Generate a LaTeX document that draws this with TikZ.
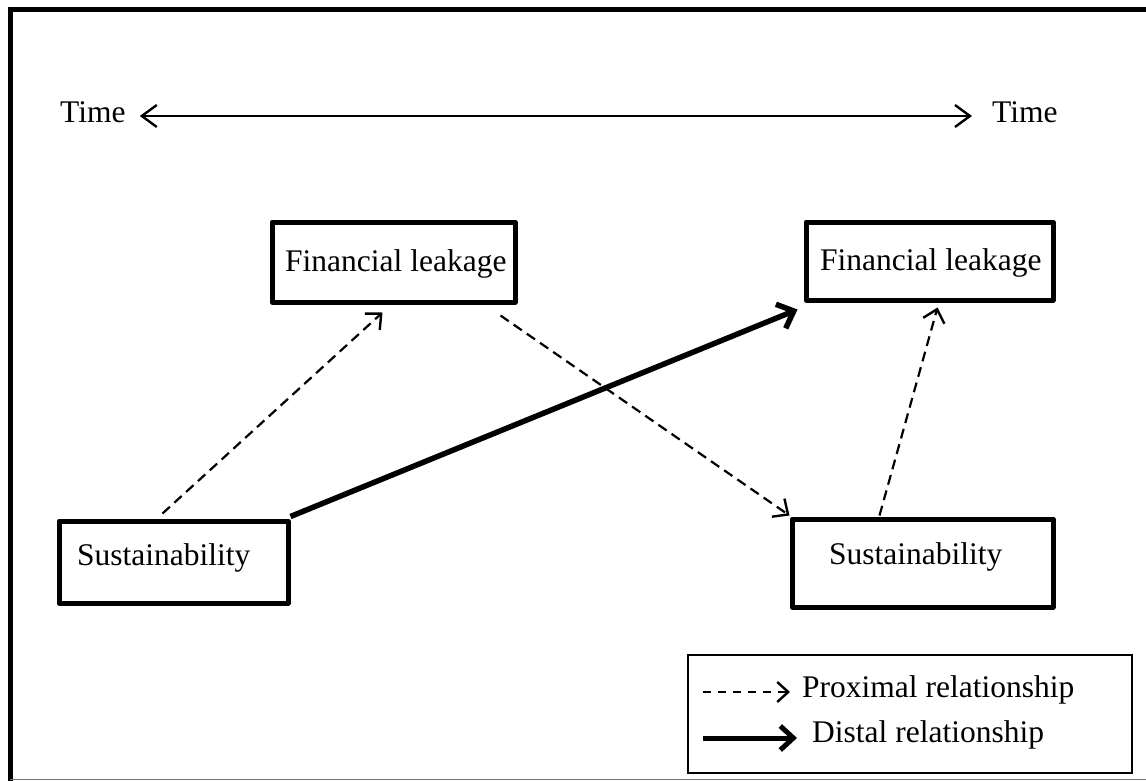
\documentclass[tikz,border=0pt]{standalone}
\usepackage{fontspec}
\setmainfont{Liberation Serif}
\usetikzlibrary{arrows.meta}
\begin{document}
\begin{tikzpicture}[x=1pt,y=-1pt,
  box/.style={draw=black,line width=5pt,rectangle,inner sep=0pt,line join=round},
  lbl/.style={inner sep=0pt,anchor=base west,font=\fontsize{31.5}{36}\selectfont},
  proximal/.style={draw=black,line width=2.2pt,dash pattern=on 10pt off 6pt,
    -{Straight Barb[length=12pt,width=22pt,line width=2.4pt]}},
  distal/.style={draw=black,line width=5.5pt,
    -{Straight Barb[length=14pt,width=26pt,line width=5.5pt]}},
  timeline/.style={draw=black,line width=2.2pt,
    {Straight Barb[length=15pt,width=22pt,line width=2.4pt]}-{Straight Barb[length=15pt,width=22pt,line width=2.4pt]}}
]
\useasboundingbox (0,0) rectangle (1146,781);
\fill[white] (0,0) rectangle (1146,781);

% outer frame: heavy top and left rules, light bottom rule
\draw[line width=5pt,black] (10,781) -- (10,10) -- (1146,10);
\draw[line width=1.5pt,black!55] (10,779.5) -- (1146,779.5);

% time axis
\node[lbl] (tl) at (60,123) {Time};
\node[lbl] (tr) at (992,123) {Time};
\draw[timeline] ([shift={(14,-7)}]tl.base east) -- ([shift={(-20,-7)}]tr.base west);

% variable boxes
\node[box,minimum width=243pt,minimum height=80pt] (fl1) at (393.5,262) {};
\node[box,minimum width=247pt,minimum height=78pt] (fl2) at (929.5,261) {};
\node[box,minimum width=229pt,minimum height=82pt] (s1) at (173.5,562) {};
\node[box,minimum width=261pt,minimum height=88pt] (s2) at (922.5,563) {};

\node[lbl] (fl1t) at (285,271) {Financial leakage};
\node[lbl] (fl2t) at (820,270) {Financial leakage};
\node[lbl] (s1t) at (77,565) {Sustainability};
\node[lbl] (s2t) at (829,564) {Sustainability};

% relationships
\draw[proximal] ([shift={(106,-5)}]s1.north west) -- ([shift={(113,8)}]fl1.south west);
\draw[proximal] ([shift={(-17,11)}]fl1.south east) -- ([shift={(0,-1)}]s2.north west);
\draw[proximal] ([shift={(90,-1)}]s2.north west) -- ([shift={(134,5)}]fl2.south west);
\draw[distal] ([shift={(0,-2)}]s1.north east) -- ([shift={(-6,7)}]fl2.south west);

% legend
\node[draw=black,line width=2.2pt,minimum width=444pt,minimum height=118pt,inner sep=0pt] (lg) at (910,714) {};
\coordinate (pa) at (703,692);
\coordinate (pb) at (790,692);
\coordinate (da) at (703,738);
\coordinate (db) at (797,738);
\draw[draw=black,line width=2.2pt,dash pattern=on 8pt off 7pt,
  -{Straight Barb[length=11pt,width=20pt,line width=2.4pt]}] (pa) -- (pb);
\draw[draw=black,line width=5pt,
  -{Straight Barb[length=13pt,width=24pt,line width=5pt]}] (da) -- (db);
\node[lbl] (pt) at (802,697) {Proximal relationship};
\node[lbl] (dt) at (812,742) {Distal relationship};
\end{tikzpicture}
\end{document}
